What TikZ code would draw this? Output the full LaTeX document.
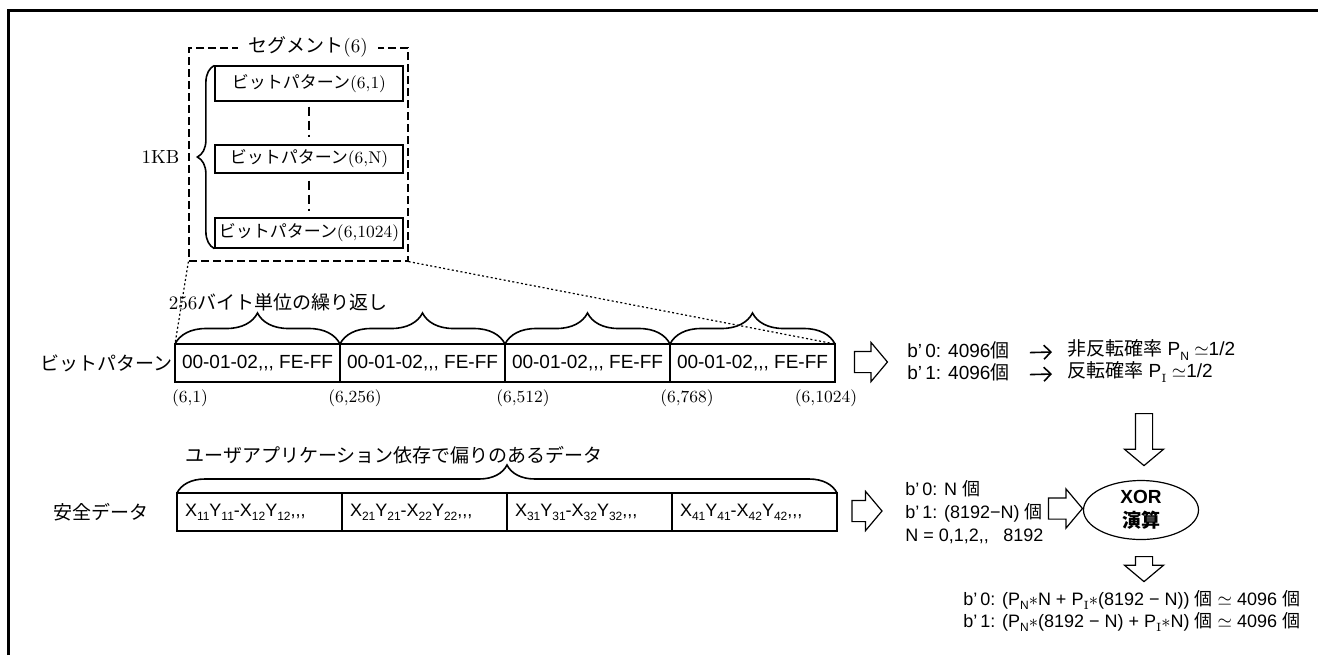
\documentclass[tikz,border=0pt]{standalone}
\usepackage{fontspec}
\newfontfamily\cjk{Noto Sans CJK JP}
\newfontfamily\arial{Liberation Sans}
\usetikzlibrary{positioning, arrows.meta, calc, shapes.geometric, shapes.arrows, decorations.pathreplacing}
\newcommand\sub[1]{\raisebox{-0.45ex}{\fontsize{6}{6}\selectfont #1}}
\newcommand\mul{$\ast$}

\begin{document}
\fontsize{9.5}{11.5}\selectfont
\begin{tikzpicture}[x=0.5pt, y=-0.5pt, >=Stealth,
      segbox/.style={draw, dash pattern=on 4pt off 2pt, line width=0.6pt,
        minimum width=109.5pt, minimum height=106.5pt, inner sep=0pt},
      patbox/.style={draw, line width=0.6pt, minimum width=94pt, minimum height=15pt,
        inner sep=0pt, font=\fontsize{8.5}{10}\selectfont},
      blkbox/.style={draw, line width=0.8pt, minimum width=82.5pt, minimum height=19pt,
        inner sep=0pt, outer sep=0pt, font=\arial},
      sdbox/.style={draw, line width=0.8pt, minimum height=19pt, text width=74.5pt,
        inner xsep=4pt, inner ysep=0pt, outer sep=0pt, align=left, font=\arial\fontsize{9}{11}\selectfont},
      brc/.style={decorate, decoration={brace, amplitude=#1}, line width=0.8pt},
      brc/.default=15.5pt,
      blkarrow/.style={draw, single arrow, line width=0.6pt, minimum height=#1,
        minimum width=19pt, single arrow head extend=4.5pt, single arrow tip angle=100, inner sep=5pt},
      txtarrow/.style={-{Straight Barb[length=3.5pt, width=7pt]}, line width=0.8pt},
      coord/.style={font=\fontsize{8.5}{10}\selectfont}]
    \useasboundingbox (0,0) rectangle (1318,655);
    \draw[line width=1.5pt] (8,655) -- (8,10) -- (1318,10);
    % segment (6)
    \node[segbox] (seg) at (298.5,154.5) {};
    \node[fill=white, inner xsep=5pt, inner ysep=1pt] (segttl) at (308,47) {{\cjk セグメント}(6)};
    \node[patbox, minimum height=17.5pt] (pat1) at (309,83.5) {{\cjk ビットパターン}(6,1)};
    \node[patbox, minimum height=14pt] (patN) at (309,159) {{\cjk ビットパターン}(6,N)};
    \node[patbox] (pat1024) at (309,233) {{\cjk ビットパターン}(6,1024)};
    \draw[dash pattern=on 4.5pt off 2.5pt, line width=0.6pt, shorten <=2.5pt, shorten >=3.5pt] (pat1) -- (patN);
    \draw[dash pattern=on 4.5pt off 2.5pt, line width=0.6pt, shorten <=3.5pt, shorten >=3pt] (patN) -- (pat1024);
    \draw[brc=8.5pt] (pat1024.south west) -- node[midway, left=14pt] (kb) {1KB} (pat1.north west);
    % bit pattern row
    \node[blkbox] (blk1) at (257.5,363) {00-01-02,,, FE-FF};
    \node[blkbox, right=0pt of blk1] (blk2) {00-01-02,,, FE-FF};
    \node[blkbox, right=0pt of blk2] (blk3) {00-01-02,,, FE-FF};
    \node[blkbox, right=0pt of blk3] (blk4) {00-01-02,,, FE-FF};
    \node[font=\cjk, left=0pt of blk1, inner sep=1pt] (rowlbl) {ビットパターン};
    \draw[brc] (blk1.north west) -- (blk1.north east);
    \draw[brc] (blk2.north west) -- (blk2.north east);
    \draw[brc] (blk3.north west) -- (blk3.north east);
    \draw[brc] (blk4.north west) -- (blk4.north east);
    \node (rep) at (278,302) {256{\cjk バイト単位の繰り返し}};
    \draw[dash pattern=on 1pt off 1.2pt, line width=0.6pt] (seg.south west) -- (blk1.north west);
    \draw[dash pattern=on 1pt off 1.2pt, line width=0.6pt] (seg.south east) -- (blk4.north east);
    \node[coord] (c1) at (190,398) {(6,1)};
    \node[coord] (c256) at (355,398) {(6,256)};
    \node[coord] (c512) at (523,398) {(6,512)};
    \node[coord] (c768) at (687,398) {(6,768)};
    \node[coord] (c1024) at (826,398) {(6,1024)};
    % safety data row
    \node[sdbox] (sd1) at (259.5,512) {X\sub{11}Y\sub{11}-X\sub{12}Y\sub{12},,,};
    \node[sdbox, right=0pt of sd1] (sd2) {X\sub{21}Y\sub{21}-X\sub{22}Y\sub{22},,,};
    \node[sdbox, right=0pt of sd2] (sd3) {X\sub{31}Y\sub{31}-X\sub{32}Y\sub{32},,,};
    \node[sdbox, right=0pt of sd3] (sd4) {X\sub{41}Y\sub{41}-X\sub{42}Y\sub{42},,,};
    \node[font=\cjk, left=11pt of sd1] (sdlbl) {安全データ};
    \draw[brc=14pt] (sd1.north west) -- (sd4.north east);
    \node[font=\cjk] (bias) at (394,455) {ユーザアプリケーション依存で偏りのあるデータ};
    % counts and probabilities
    \node[blkarrow=16.5pt] (arA) at (866.5,362) {};
    \node[font=\arial, anchor=west, inner sep=0pt] (n0) at (907,350) {b’\,0: 4096{\cjk 個}};
    \node[font=\arial, anchor=west, inner sep=0pt] (n1) at (907,372) {b’\,1: 4096{\cjk 個}};
    \node[font=\arial, anchor=west, inner sep=0pt] (p0) at (1067,350) {{\cjk 非反転確率} P\sub{N} $\simeq$1/2};
    \node[font=\arial, anchor=west, inner sep=0pt] (p1) at (1067,372) {{\cjk 反転確率} P\sub{\rmfamily I} $\simeq$1/2};
    \draw[txtarrow, shorten <=10pt, shorten >=7.5pt] (n0.mid east) -- (p0.mid west);
    \draw[txtarrow, shorten <=10pt, shorten >=7.5pt] (n1.mid east) -- (p1.mid west);
    \node[blkarrow=26pt, rotate=-90, inner sep=4pt, single arrow head extend=5.5pt] (arD) at (1144,436) {};
    \node[blkarrow=15pt] (arB) at (862.5,511) {};
    \node[font=\arial\fontsize{9}{11.5}\selectfont, anchor=west, align=left, inner sep=0pt] (cnt) at (905,512)
      {b’\,0: N {\cjk 個}\\ b’\,1: (8192−N) {\cjk 個}\\ N = 0,1,2,,\hspace{0.8em}8192};
    \node[blkarrow=17pt] (arC) at (1061,508.5) {};
    \node[draw, ellipse, line width=0.6pt, minimum width=57.5pt, minimum height=29.5pt, inner sep=0pt,
      align=center, font=\arial\bfseries\fontsize{9.5}{12}\selectfont] (xor) at (1141,510) {XOR\\{\cjk 演算}};
    \node[blkarrow=12.5pt, rotate=-90, inner sep=4pt, single arrow head extend=5.5pt] (arE) at (1144,565.5) {};
    \node[font=\arial\fontsize{9}{11}\selectfont, anchor=west, align=left, inner sep=0pt] (res) at (963,611)
      {b’\,0: (P\sub{N}\mul N + P\sub{\rmfamily I}\mul(8192 − N)) {\cjk 個} $\simeq$ 4096 {\cjk 個}\\
       b’\,1: (P\sub{N}\mul(8192 − N) + P\sub{\rmfamily I}\mul N) {\cjk 個} $\simeq$ 4096 {\cjk 個}};
  \end{tikzpicture}
\end{document}
